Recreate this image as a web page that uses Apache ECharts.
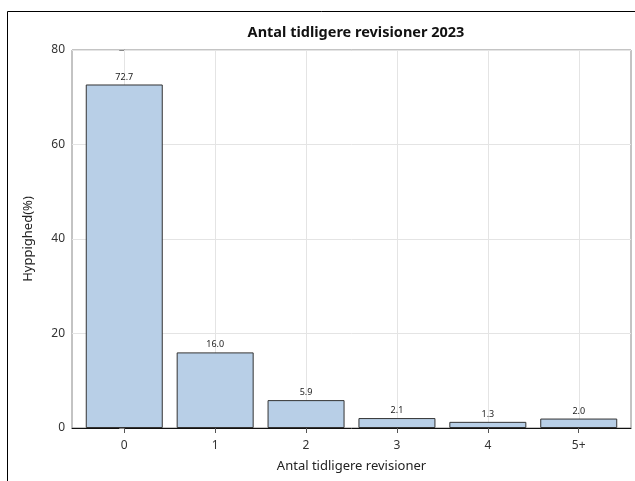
<!DOCTYPE html>
<html>
<head>
<meta charset="utf-8">
<script src="https://cdn.jsdelivr.net/npm/echarts@6/dist/echarts.min.js"></script>
<style>
html,body{margin:0;padding:0;background:#fff;}
#chart{width:635px;height:481px;}
</style>
</head>
<body>
<div id="chart"></div>
<script>
const categories = ['0', '1', '2', '3', '4', '5+'];
const values = [72.7, 16.0, 5.9, 2.1, 1.3, 2.0];
const yTicks = [0, 20, 40, 60, 80];
const titleText = 'Antal tidligere revisioner 2023';
const xTitle = 'Antal tidligere revisioner';
const yTitle = 'Hyppighed(%)';

const positions = categories.map((c, i) => i);
const font = 'Noto Sans';
const yMin = yTicks[0], yMax = yTicks[yTicks.length - 1];

const chart = echarts.init(document.getElementById('chart'), null, {renderer: 'canvas'});
chart.setOption({
  animation: false,
  backgroundColor: '#fff',
  title: {
    text: titleText,
    left: 351,
    top: 20,
    textAlign: 'center',
    textStyle: {fontFamily: font, fontWeight: 'bold', fontSize: 14.5, color: '#111'}
  },
  graphic: [{
    type: 'rect',
    shape: {x: 7.5, y: 11.5, width: 640, height: 480},
    style: {fill: null, stroke: '#000', lineWidth: 1},
    silent: true, z: -1
  }],
  grid: {
    left: 72, right: 4, top: 50, bottom: 53,
    show: true, borderColor: '#888', borderWidth: 1
  },
  xAxis: {
    type: 'value',
    min: -0.575,
    max: 5.575,
    name: xTitle,
    nameLocation: 'middle',
    nameGap: 32,
    nameTextStyle: {fontFamily: font, fontSize: 13, color: '#222'},
    axisLine: {show: true, onZero: false, lineStyle: {color: '#111', width: 1}},
    axisTick: {show: true, length: 5, customValues: positions, lineStyle: {color: '#555'}},
    axisLabel: {
      customValues: positions,
      margin: 12,
      fontFamily: font, fontSize: 12, color: '#333',
      formatter: v => categories[Math.round(v)]
    },
    splitLine: {show: false}
  },
  yAxis: {
    type: 'value',
    min: yMin, max: yMax, interval: 20,
    name: yTitle,
    nameLocation: 'middle',
    nameGap: 37,
    nameTextStyle: {fontFamily: font, fontSize: 13, color: '#222'},
    axisLine: {show: true, lineStyle: {color: '#888'}},
    axisTick: {show: true, length: 5, lineStyle: {color: '#888'}},
    axisLabel: {
      margin: 7, fontFamily: font, fontSize: 12, color: '#333',
      formatter: v => yTicks.includes(v) ? String(v) : ''
    },
    splitLine: {show: true, lineStyle: {color: '#e4e4e4', width: 1}}
  },
  series: [{
    type: 'custom',
    silent: true,
    z: 1,
    data: positions.map(p => [p]),
    renderItem: (params, api) => {
      const x = api.value(0);
      const p0 = api.coord([x, yMin]);
      const p1 = api.coord([x, yMax]);
      const px = Math.round(p0[0]) + 0.5;
      return {
        type: 'line',
        shape: {x1: px, y1: p0[1], x2: px, y2: p1[1]},
        style: {stroke: '#e4e4e4', lineWidth: 1}
      };
    },
    encode: {x: 0}
  }, {
    type: 'bar',
    data: values.map((v, i) => [i, v]),
    barWidth: 77,
    z: 3,
    itemStyle: {color: '#b8cfe7', borderColor: '#333', borderWidth: 1},
    label: {
      show: true, position: 'top', distance: 3,
      fontFamily: font, fontSize: 9, color: '#222',
      textBorderWidth: 0,
      formatter: p => p.value[1].toFixed(1)
    }
  }]
});
</script>
</body>
</html>
